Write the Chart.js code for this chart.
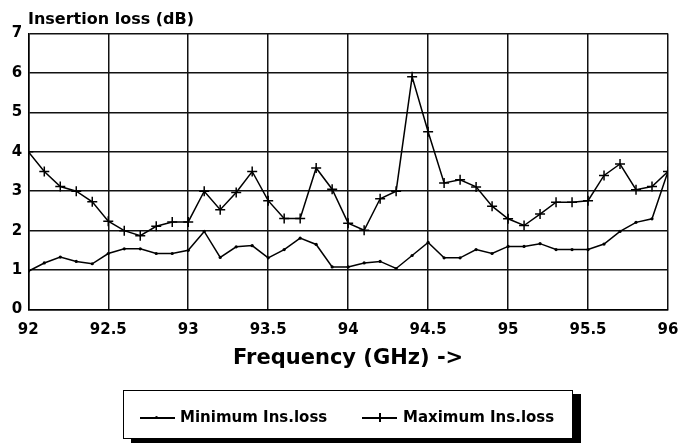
<!DOCTYPE html>
<html>
<head>
<meta charset="utf-8">
<script src="https://cdn.jsdelivr.net/npm/chart.js@4/dist/chart.umd.min.js"></script>
<style>
  html, body { margin: 0; padding: 0; background: #fff; }
  #wrap { position: relative; width: 681px; height: 445px; overflow: hidden; font-family: "DejaVu Sans", sans-serif; font-weight: bold; color: #000; }
  #c { position: absolute; left: 0; top: 0; }
  #ytitle { position: absolute; left: 28px; top: 11px; font-size: 16px; line-height: 16px; white-space: nowrap; }
  #legend { position: absolute; left: 123px; top: 390px; width: 448px; height: 47px; border: 1px solid #000; box-shadow: 8px 4px 0 #000; background: #fff; }
  .txt { position: absolute; top: 17px; font-size: 15px; line-height: 18px; white-space: nowrap; }
  .ln { position: absolute; top: 26px; height: 1.5px; width: 35px; background: #000; }
  .dot { position: absolute; top: 25px; width: 3px; height: 3px; background: #000; border-radius: 2px; }
  .tick { position: absolute; top: 22px; width: 1.5px; height: 9px; background: #000; }
</style>
</head>
<body>
<div id="wrap">
  <canvas id="c" width="681" height="445"></canvas>
  <div id="ytitle">Insertion loss (dB)</div>
  <div id="legend">
    <div class="ln" style="left:16px"></div><div class="dot" style="left:31px"></div>
    <div class="txt" style="left:56px">Minimum Ins.loss</div>
    <div class="ln" style="left:238px"></div><div class="tick" style="left:255px"></div>
    <div class="txt" style="left:279px">Maximum Ins.loss</div>
  </div>
</div>
<script>
const frequencies = [92.0, 92.1, 92.2, 92.3, 92.4, 92.5, 92.6, 92.7, 92.8, 92.9,
  93.0, 93.1, 93.2, 93.3, 93.4, 93.5, 93.6, 93.7, 93.8, 93.9,
  94.0, 94.1, 94.2, 94.3, 94.4, 94.5, 94.6, 94.7, 94.8, 94.9,
  95.0, 95.1, 95.2, 95.3, 95.4, 95.5, 95.6, 95.7, 95.8, 95.9, 96.0];

const minInsLoss = [0.97, 1.18, 1.33, 1.22, 1.16, 1.42, 1.54, 1.54, 1.42, 1.42,
  1.50, 1.98, 1.32, 1.59, 1.62, 1.31, 1.52, 1.81, 1.65, 1.08,
  1.08, 1.18, 1.22, 1.04, 1.37, 1.70, 1.31, 1.31, 1.52, 1.42,
  1.60, 1.60, 1.67, 1.52, 1.52, 1.52, 1.66, 1.98, 2.21, 2.30, 3.50];

const maxInsLoss = [4.00, 3.50, 3.12, 3.00, 2.73, 2.24, 2.00, 1.87, 2.11, 2.22,
  2.22, 3.00, 2.53, 2.97, 3.50, 2.76, 2.31, 2.31, 3.59, 3.05,
  2.19, 2.01, 2.81, 3.00, 5.90, 4.51, 3.21, 3.29, 3.11, 2.62,
  2.30, 2.13, 2.42, 2.72, 2.72, 2.76, 3.40, 3.69, 3.04, 3.12, 3.50];

const xTicks = [92, 92.5, 93, 93.5, 94, 94.5, 95, 95.5, 96];
const xTickLabels = ["92", "92.5", "93", "93.5", "94", "94.5", "95", "95.5", "96"];
const yTicks = [0, 1, 2, 3, 4, 5, 6, 7];
const yTickLabels = ["0", "1", "2", "3", "4", "5", "6", "7"];

const seriesNames = ["Minimum Ins.loss", "Maximum Ins.loss"];

const tickFont = { family: "DejaVu Sans", size: 15, weight: "bold" };

function noPad(s) { s.paddingLeft = 0; s.paddingRight = 0; s.paddingTop = 0; s.paddingBottom = 0; }

new Chart(document.getElementById("c"), {
  type: "line",
  data: {
    datasets: [
      {
        label: seriesNames[0],
        data: frequencies.map((f, i) => ({ x: f, y: minInsLoss[i] })),
        borderColor: "#000",
        backgroundColor: "#000",
        borderWidth: 1.5,
        pointStyle: "circle",
        pointRadius: 1.6,
        pointBorderWidth: 0,
        tension: 0
      },
      {
        label: seriesNames[1],
        data: frequencies.map((f, i) => ({ x: f, y: maxInsLoss[i] })),
        borderColor: "#000",
        backgroundColor: "#000",
        borderWidth: 1.5,
        pointStyle: "cross",
        pointRadius: 5,
        pointBorderWidth: 1.5,
        tension: 0
      }
    ]
  },
  options: {
    responsive: false,
    animation: false,
    layout: { padding: { left: 0, right: 13, top: 33.5, bottom: 73.5 } },
    plugins: { legend: { display: false }, title: { display: false }, tooltip: { enabled: false } },
    scales: {
      x: {
        type: "linear",
        min: 92, max: 96,
        afterBuildTicks: s => { s.ticks = xTicks.map(v => ({ value: v })); },
        afterFit: s => { s.height = 62; noPad(s); },
        ticks: {
          color: "#000",
          font: tickFont,
          padding: 12,
          maxRotation: 0,
          autoSkip: false,
          callback: (v) => { const i = xTicks.indexOf(v); return i >= 0 ? xTickLabels[i] : ""; }
        },
        grid: { color: "#111", lineWidth: 1.5, drawTicks: false },
        border: { color: "#000", width: 1.5 },
        title: {
          display: true,
          text: "Frequency (GHz) ->",
          color: "#000",
          font: { family: "DejaVu Sans", size: 21, weight: "bold" },
          padding: 0
        }
      },
      y: {
        type: "linear",
        min: 0, max: 7,
        afterBuildTicks: s => { s.ticks = yTicks.map(v => ({ value: v })); },
        afterFit: s => { s.width = 28.3; noPad(s); },
        ticks: {
          color: "#000",
          font: tickFont,
          padding: 6,
          callback: (v) => { const i = yTicks.indexOf(v); return i >= 0 ? yTickLabels[i] : ""; }
        },
        grid: { color: "#111", lineWidth: 1.5, drawTicks: false },
        border: { color: "#000", width: 1.5 }
      }
    }
  }
});
</script>
</body>
</html>
